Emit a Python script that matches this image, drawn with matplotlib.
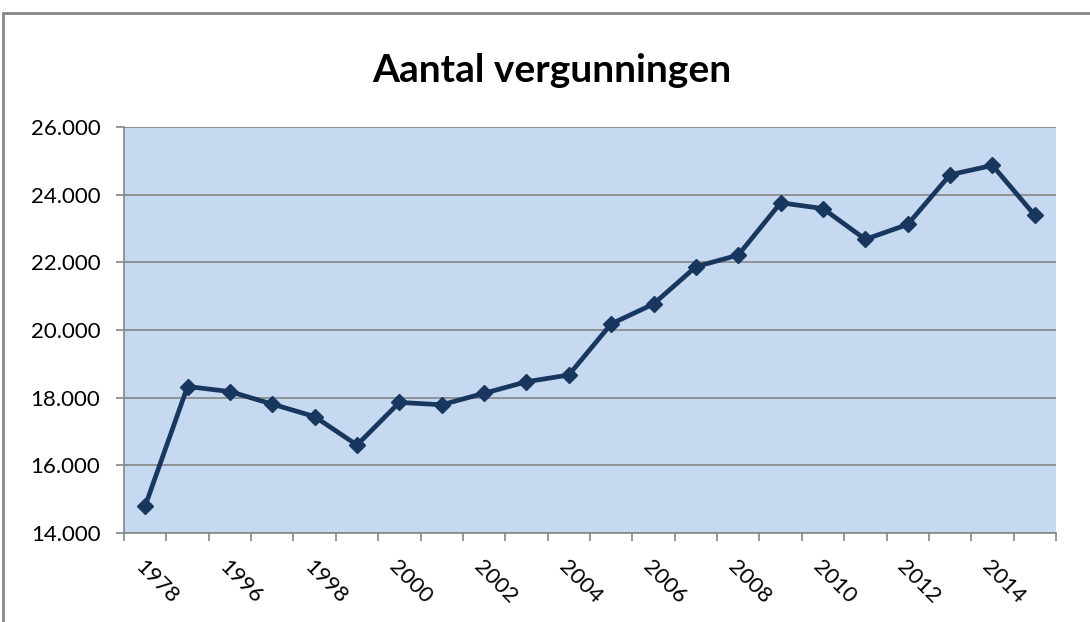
import matplotlib.pyplot as plt
from matplotlib.patches import Rectangle
from matplotlib.ticker import FuncFormatter

years = ["1978", "1995", "1996", "1997", "1998", "1999", "2000", "2001", "2002", "2003", "2004",
         "2005", "2006", "2007", "2008", "2009", "2010", "2011", "2012", "2013", "2014", "2015"]
vergunningen = [14800, 18330, 18180, 17810, 17440, 16600, 17860, 17790, 18130, 18470, 18670,
                20180, 20770, 21870, 22215, 23760, 23590, 22680, 23120, 24590, 24865, 23390]

plt.rcParams['font.family'] = ['Lato', 'DejaVu Sans']

W, H = 1090, 622
fig = plt.figure(figsize=(W / 100, H / 100), dpi=100)
fig.patch.set_facecolor('white')

# chart frame (extends past right and bottom edge)
fig.patches.append(Rectangle((3 / W, -0.1), 1.2, (H - 13) / H + 0.1, transform=fig.transFigure,
                             fill=False, edgecolor='#868686', linewidth=2))

ax = fig.add_axes([124 / W, 1 - 533 / H, (1056 - 124) / W, (533 - 127) / H])
ax.set_facecolor('#C6D9F0')

x = list(range(len(years)))
ax.plot(x, vergunningen, color='#17375E', linewidth=3.4, marker='D', markersize=8,
        markerfacecolor='#17375E', markeredgecolor='#17375E', zorder=3)

ax.set_xlim(-0.5, len(years) - 0.5)
ax.set_ylim(14000, 26000)
ax.set_yticks(range(14000, 26001, 2000))
ax.yaxis.set_major_formatter(FuncFormatter(lambda v, p: f"{int(v):,}".replace(",", ".")))
ax.grid(axis='y', color='#868686', linewidth=1.2)
ax.set_axisbelow(True)

# x ticks at category boundaries, labels every other category
ax.set_xticks([i - 0.5 for i in range(len(years) + 1)])
ax.set_xticklabels([])
ax.set_xticks(x[::2], minor=True)
ax.set_xticklabels(years[::2], minor=True, rotation=-45, ha='left', va='top',
                   rotation_mode='anchor', fontsize=16)
ax.tick_params(axis='x', which='minor', length=0, pad=17)
ax.tick_params(axis='x', which='major', length=6, color='#868686', width=1.2)
ax.tick_params(axis='y', length=6, color='#868686', width=1.2, labelsize=16, pad=11)

for side in ['top', 'right']:
    ax.spines[side].set_visible(False)
for side in ['left', 'bottom']:
    ax.spines[side].set_color('#868686')
    ax.spines[side].set_linewidth(1.2)

fig.text(552 / W, 1 - 70 / H, "Aantal vergunningen", ha='center', va='center',
         fontsize=28, fontweight='bold')

fig.savefig("out.png", dpi=100)
